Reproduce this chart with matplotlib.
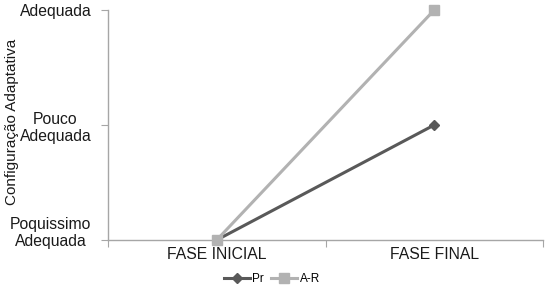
import matplotlib
matplotlib.use("Agg")
import matplotlib.pyplot as plt
import matplotlib.transforms as mtransforms

plt.rcParams['font.family'] = ['Liberation Sans', 'DejaVu Sans']

categories = ["FASE INICIAL", "FASE FINAL"]
pr_values = [0, 1]
ar_values = [0, 2]
y_tick_values = [0, 1, 2]
y_tick_labels = ["Poquissimo\nAdequada", "Pouco\nAdequada", "Adequada"]

fig = plt.figure(figsize=(5.52, 2.87), dpi=100)
ax = fig.add_axes([108/552, 1-240/287, (543-108)/552, (240-10)/287])

x = list(range(len(categories)))
ax.plot(x, pr_values, color='#595959', lw=2.2, marker='D', ms=5.5, label='Pr', zorder=3, clip_on=False)
ax.plot(x, ar_values, color='#b2b2b2', lw=2.2, marker='s', ms=7, label='A-R', zorder=4, clip_on=False)

ax.set_xlim(-0.5, len(categories) - 0.5)
ax.set_ylim(0, 2)
ax.set_xticks([i - 0.5 for i in range(len(categories) + 1)], minor=False)
ax.set_xticklabels([])
ax.set_xticks(x, minor=True)
ax.set_xticklabels(categories, minor=True, fontsize=11.3, color='#1a1a1a')
ax.tick_params(axis='x', which='minor', length=0, pad=5)
ax.tick_params(axis='x', which='major', length=5, color='#a6a6a6', direction='out')

ax.set_yticks(y_tick_values)
ax.set_yticklabels(y_tick_labels, fontsize=11.3, color='#1a1a1a', multialignment='center')
ax.tick_params(axis='y', length=5, color='#a6a6a6', direction='out', pad=7)
labs = ax.get_yticklabels()
labs[0].set_transform(labs[0].get_transform() + mtransforms.ScaledTranslation(0, 10/100, fig.dpi_scale_trans))

for s in ['top', 'right']:
    ax.spines[s].set_visible(False)
for s in ['left', 'bottom']:
    ax.spines[s].set_color('#a6a6a6')
    ax.spines[s].set_linewidth(1)

fig.text(12/552, 1-122/287, "Configuração Adaptativa", rotation=90, ha='center', va='center',
         fontsize=11, color='#1a1a1a')

leg = ax.legend(loc='center', bbox_to_anchor=(272/552, 1-279/287), bbox_transform=fig.transFigure,
                ncol=2, frameon=False, fontsize=8.5, handlelength=2.2, columnspacing=0.6,
                handletextpad=0.2, borderpad=0)

fig.savefig("out.png", dpi=100)
